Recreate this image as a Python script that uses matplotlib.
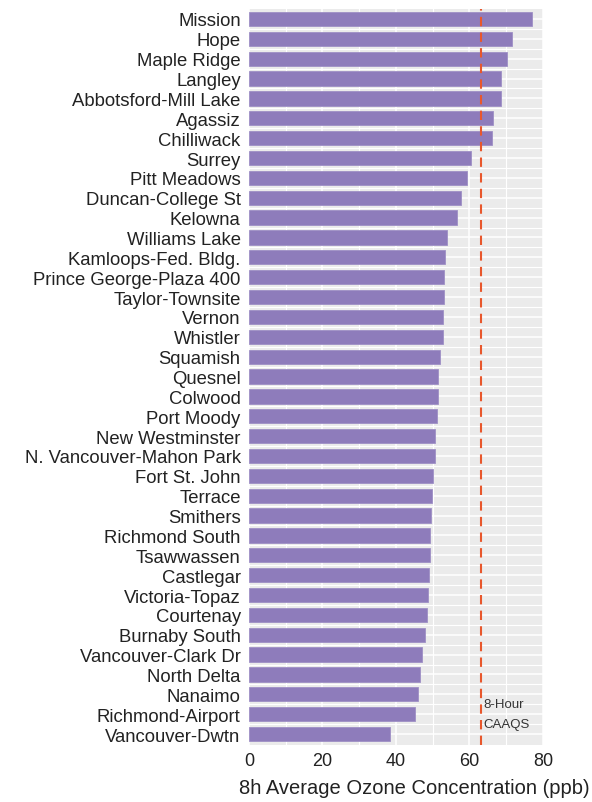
import matplotlib.pyplot as plt

plt.rcParams["font.family"] = ["Liberation Sans", "DejaVu Sans"]

stations = ["Mission", "Hope", "Maple Ridge", "Langley", "Abbotsford-Mill Lake",
            "Agassiz", "Chilliwack", "Surrey", "Pitt Meadows", "Duncan-College St",
            "Kelowna", "Williams Lake", "Kamloops-Fed. Bldg.", "Prince George-Plaza 400",
            "Taylor-Townsite", "Vernon", "Whistler", "Squamish", "Quesnel", "Colwood",
            "Port Moody", "New Westminster", "N. Vancouver-Mahon Park", "Fort St. John",
            "Terrace", "Smithers", "Richmond South", "Tsawwassen", "Castlegar",
            "Victoria-Topaz", "Courtenay", "Burnaby South", "Vancouver-Clark Dr",
            "North Delta", "Nanaimo", "Richmond-Airport", "Vancouver-Dwtn"]

ozone = [76.9, 71.5, 70.1, 68.5, 68.6, 66.3, 66.0, 60.4, 59.3, 57.6,
         56.5, 54.0, 53.4, 53.2, 53.1, 52.9, 52.7, 52.0, 51.4, 51.3,
         51.1, 50.7, 50.7, 50.2, 49.8, 49.5, 49.3, 49.2, 48.9, 48.8,
         48.5, 47.8, 47.2, 46.5, 45.9, 45.3, 38.4]

caaqs = 63

fig = plt.figure(figsize=(5.92, 8.03), dpi=100)
ax = fig.add_axes([0.4206, 0.071, 0.4966, 0.9165])

ypos = list(range(len(stations)))[::-1]

ax.set_facecolor("#EBEBEB")
ax.set_axisbelow(True)
ax.set_xticks([0, 20, 40, 60, 80])
ax.set_xticks([10, 30, 50, 70], minor=True)
ax.set_yticks([y + 0.5 for y in ypos[1:]], minor=True)
ax.grid(which="major", color="white", linewidth=1.1)
ax.grid(which="minor", color="white", linewidth=0.8)

ax.barh(ypos, ozone, height=0.72, color="#8E7CBB", edgecolor="#9F90C6", linewidth=0.6)
ax.axvline(caaqs, color="#E8572C", linestyle=(0, (4.5, 3)), linewidth=1.5)

ax.text(caaqs + 0.8, 1.5, "8-Hour", fontsize=9.5, va="center", ha="left", color="#333333")
ax.text(caaqs + 0.8, 0.5, "CAAQS", fontsize=9.5, va="center", ha="left", color="#333333")

ax.set_yticks(ypos)
ax.set_yticklabels(stations, fontsize=13.3, color="#222222")
ax.set_xlim(0, 80)
ax.set_ylim(-0.55, len(stations) - 0.5)
ax.tick_params(axis="both", which="both", length=0)
ax.tick_params(axis="y", pad=6)
ax.tick_params(axis="x", labelsize=13, colors="#222222", pad=5)

for s in ax.spines.values():
    s.set_visible(False)

ax.set_xlabel("8h Average Ozone Concentration (ppb)", fontsize=14.5, color="#222222")
ax.xaxis.set_label_coords(0.561, -0.045)

plt.savefig("out.png", dpi=100)
